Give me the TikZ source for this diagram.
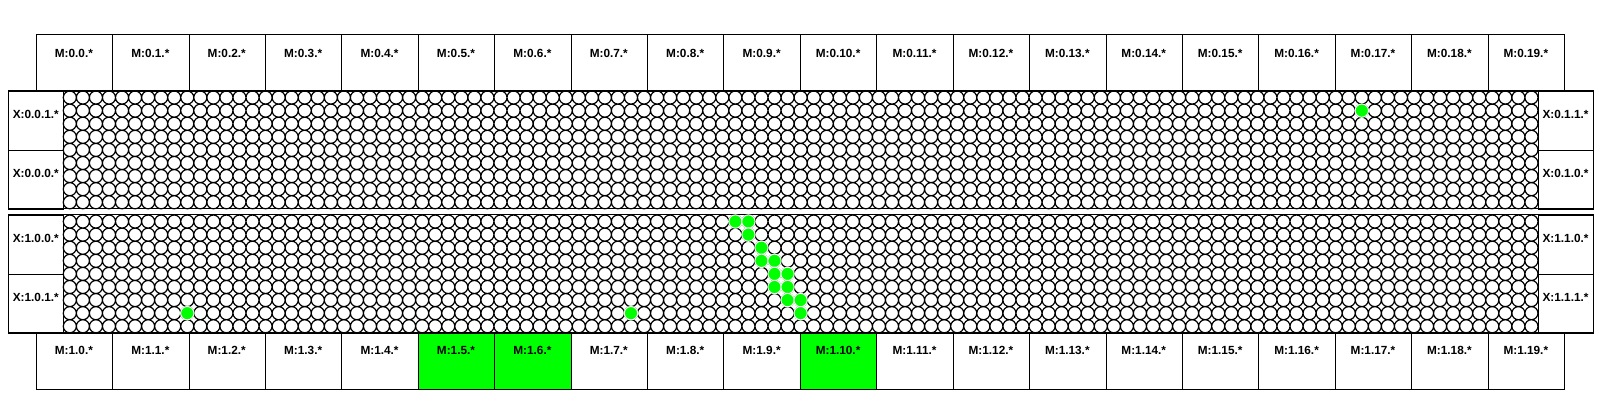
\documentclass[tikz,border=0pt]{standalone}
\usepackage{fontspec}
\setmainfont{Liberation Sans}
\definecolor{hitgreen}{RGB}{0,255,0}
\begin{document}
\begin{tikzpicture}[x=0.5pt,y=-0.5pt,
  box/.style={draw, line width=0.5pt, inner sep=0pt, minimum width=38.2075pt, minimum height=28.3pt, anchor=north west},
  xbox/.style={draw, line width=0.5pt, inner sep=0pt, minimum width=27.5pt, minimum height=29.45pt, anchor=north west},
  lbl/.style={font=\fontsize{5.9}{6}\selectfont\bfseries, inner sep=0pt},
  cell/.style={line width=0.6pt},
  hit/.style={draw=white, line width=0.5pt, fill=hitgreen}]
\useasboundingbox (0,0) rectangle (1600,400);
% top M boxes
\foreach \i in {0,...,19} {
  \node[box] (mt\i) at ({35.7+76.415*\i},34.3) {};
  \node[lbl] (mtl\i) at ({35.7+76.415*(\i+0.5)},53.3) {M:0.\i.*};
}
% bottom M boxes
\foreach \i in {0,...,19} {
  \pgfmathtruncatemacro\g{(\i==5)||(\i==6)||(\i==10)}
  \ifnum\g=1 \def\fc{hitgreen}\else\def\fc{white}\fi
  \node[box, fill=\fc] (mb\i) at ({35.7+76.415*\i},332.8) {};
  \node[lbl] (mbl\i) at ({35.7+76.415*(\i+0.5)},350.5) {M:1.\i.*};
}
% panels
\foreach \p/\t in {0/91,1/215} {
  \draw[line width=0.5pt] (8.3,\t) rectangle (1593,{\t+117.8});
  \draw[cell] \foreach \c in {0,...,112} { \foreach \r in {0,...,8} {
      ({63.3+13.05*(\c+0.5)},{\t+13.09*(\r+0.5)}) circle (6.53) } };
}
% X boxes
\node[xbox] (xl01) at (8.3,91) {};
\node[xbox] (xl00) at (8.3,149.9) {};
\node[xbox] (xr11) at (1538,91) {};
\node[xbox] (xr10) at (1538,149.9) {};
\node[xbox] (xl10) at (8.3,215) {};
\node[xbox] (xl11) at (8.3,273.9) {};
\node[xbox] (xr10b) at (1538,215) {};
\node[xbox] (xr11b) at (1538,273.9) {};
\node[lbl] (txl01) at (35.8,114.5) {X:0.0.1.*};
\node[lbl] (txl00) at (35.8,173.4) {X:0.0.0.*};
\node[lbl] (txr11) at (1565.5,114.5) {X:0.1.1.*};
\node[lbl] (txr10) at (1565.5,173.4) {X:0.1.0.*};
\node[lbl] (txl10) at (35.8,238.5) {X:1.0.0.*};
\node[lbl] (txl11) at (35.8,297.4) {X:1.0.1.*};
\node[lbl] (txr10b) at (1565.5,238.5) {X:1.1.0.*};
\node[lbl] (txr11b) at (1565.5,297.4) {X:1.1.1.*};
% highlighted cells
\foreach \c/\r in {99/1} {
  \draw[hit] ({63.3+13.05*(\c+0.5)},{91+13.09*(\r+0.5)}) circle (6.7);
}
\foreach \c/\r in {51/0,52/0,52/1,53/2,53/3,54/3,54/4,55/4,54/5,55/5,55/6,56/6,56/7,9/7,43/7} {
  \draw[hit] ({63.3+13.05*(\c+0.5)},{215+13.09*(\r+0.5)}) circle (6.7);
}
\end{tikzpicture}
\end{document}
